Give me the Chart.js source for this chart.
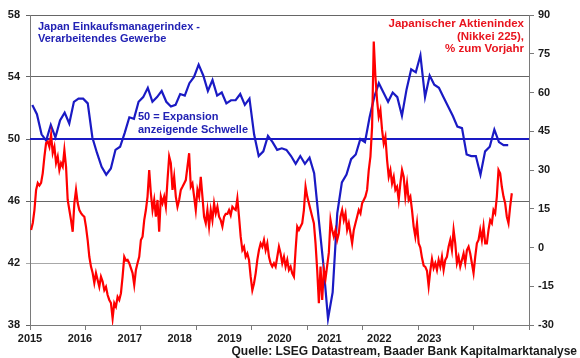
<!DOCTYPE html>
<html>
<head>
<meta charset="utf-8">
<script src="https://cdn.jsdelivr.net/npm/chart.js@4/dist/chart.umd.min.js"></script>
<style>
html,body{margin:0;padding:0;background:#fff;}
#wrap{width:580px;height:358px;}
</style>
</head>
<body>
<div id="wrap"><canvas id="c" width="580" height="358"></canvas></div>
<script>
// ---------- DATA ----------
// Japan manufacturing PMI, monthly, Jan 2015 .. Aug 2023
const pmiStartYear = 2015;
const pmiValues = [
  52.2, 51.6, 50.3, 49.9, 50.9, 50.1, 51.2, 51.7, 51.0, 52.4, 52.6, 52.6,
  52.3, 50.1, 49.1, 48.2, 47.7, 48.1, 49.3, 49.5, 50.4, 51.4, 51.3, 52.4,
  52.7, 53.3, 52.4, 52.7, 53.1, 52.4, 52.1, 52.2, 52.9, 52.8, 53.6, 54.0,
  54.8, 54.1, 53.1, 53.8, 52.8, 53.0, 52.3, 52.5, 52.5, 52.9, 52.2, 52.6,
  50.3, 48.9, 49.2, 50.2, 49.8, 49.3, 49.4, 49.3, 48.9, 48.4, 48.9, 48.4,
  48.8, 47.8, 44.8, 41.9, 38.4, 40.1, 45.2, 47.2, 47.7, 48.7, 49.0, 50.0,
  49.8, 51.4, 52.7, 53.6, 53.0, 52.4, 53.0, 52.7, 51.5, 53.2, 54.5, 54.3,
  55.4, 52.7, 54.1, 53.5, 53.3, 52.7, 52.1, 51.5, 50.8, 50.7, 49.0, 48.9,
  48.9, 47.7, 49.2, 49.5, 50.6, 49.8, 49.6, 49.6
];

// Nikkei 225, % y/y, sampled about every 11 days from early Jan 2015
const nikkeiStart = 2015.02;
const nikkeiStep = 0.03;
const nikkeiValues = [
  6.8, 9.5, 14.5, 22.3, 25, 24, 25, 28.8, 35.2, 40.4,
  41, 39, 43.6, 36.6, 39, 32.7, 35.2, 30, 32.7, 31.3,
  37.7, 31.3, 18.4, 14.5, 10.6, 6.1, 17.2, 22.3, 17.2, 14.5,
  13.3, 12.5, 11.9, 8, 2.9, -3.6, -7.4, -9.9, -13.7, -9.9,
  -12.6, -15.2, -11.3, -13.2, -16.5, -15.2, -18.4, -20.3, -21.5, -27.4,
  -21.5, -22.9, -19.1, -20.3, -17.7, -11.3, -3.6, -5, -4.8, -6.1,
  -8, -9.9, -14.5, -8.7, -6, -3.6, 2.9, 4.2, 10.6, 14.5,
  19.7, 30, 21, 14.5, 18.4, 11.9, 18.4, 6.1, 19.7, 17.2,
  19.7, 15.8, 26.1, 35.2, 32.6, 22.3, 27.4, 19.7, 15.8, 18.4,
  22.3, 23.5, 24.8, 26.1, 31.3, 36.5, 23.5, 24.8, 19.7, 14.5,
  22.3, 19.7, 27.4, 19.7, 11.9, 9.4, 14.5, 8.1, 14.5, 10.6,
  17.1, 13.2, 15.8, 11.9, 10.6, 8.1, 11.9, 13, 13, 14.5,
  12.5, 15.8, 15, 14.5, 19, 11.9, 4.2, -1, 0.3, -3.6,
  -2.3, -4.8, -11.3, -16.5, -13.9, -10, -4.8, -1, 1.6, 0.3,
  2.9, -1, 1.6, -3.6, -6.1, -7.4, -6.1, -7.4, -3.6, 0.3,
  -2.3, -6.1, -3.6, -7.4, -4.8, -8.7, -7.4, -10, -11.3, -1,
  8.1, 6.8, 8.1, 9.4, 14.5, 23.5, 19.7, 17.1, 14.5, 11.9,
  9.4, 1.6, -8.7, -21.6, -7.4, -20.3, -8.7, -12, -7, -2,
  10.6, 6.8, 4.2, 6.8, 2.9, 5.5, 11.9, 14.5, 10.6, 13.2,
  6.8, 9.4, 5.5, 1.6, 6.8, 9.4, 11.9, 14.5, 13.2, 17.1,
  18.4, 19.7, 22.3, 30, 35.2, 46.8, 79.7, 66.1, 57, 50.6,
  53.2, 45.5, 40.3, 42.9, 33.9, 27.4, 30, 24.8, 27.4, 22.3,
  23.5, 18.4, 24.8, 30, 27.4, 19.7, 24.8, 18.4, 19.7, 14.5,
  8.1, 4.2, 9.4, 1.6, 0, -4, -7, -7.5, -9, -15,
  -9, -4.5, -8, -6.1, -8.7, -4.8, -7.4, -3.6, -8.7, -4.8,
  -3.6, 0.3, 2.9, -1, 6.8, 1.6, -6.1, -3.6, -7.4, -4.8,
  -2.3, -6.1, -1, 0.3, -2.3, -6.1, -9.9, -3.6, 1.6, 2.9,
  6.8, 2.9, 8.1, 1.6, 1.6, 6.8, 10.6, 9.4, 14.5, 13.2,
  19.7, 30, 28.7, 23.5, 19.7, 17.1, 11.9, 9.4, 15.8, 21
];

const thresholdValue = 50;
const yearLabels = ['2015','2016','2017','2018','2019','2020','2021','2022','2023'];
const leftTicks = [38, 42, 46, 50, 54, 58];
const rightTicks = [-30, -15, 0, 15, 30, 45, 60, 75, 90];

// ---------- BUILD ----------
const pmiData = pmiValues.map((v, i) => ({ x: pmiStartYear + (i + 0.5) / 12, y: v }));
const nikkeiData = nikkeiValues.map((v, i) => ({ x: nikkeiStart + i * nikkeiStep, y: v }));
const thresholdData = [{ x: 2015, y: thresholdValue }, { x: 2024, y: thresholdValue }];

const FONT = '"Liberation Sans", Arial, sans-serif';
const BLUE = '#1a1ac4';
const BLUE_TXT = '#2222b4';
const RED = '#ff0000';
const RED_TXT = '#e8141e';
const AXIS = '#7a7a7a';
const TICK_TXT = '#1a1a1a';
const tickFont = { family: FONT, size: 11, weight: 'bold' };

const textPlugin = {
  id: 'texts',
  afterDraw(chart) {
    const c = chart.ctx;
    c.save();
    c.font = 'bold 11px ' + FONT;
    c.textBaseline = 'alphabetic';
    c.fillStyle = BLUE_TXT;
    c.textAlign = 'left';
    c.fillText('Japan Einkaufsmanagerindex -', 38, 30);
    c.fillText('Verarbeitendes Gewerbe', 38, 42);
    c.fillText('50 = Expansion', 138, 120);
    c.fillText('anzeigende Schwelle', 138, 133);
    c.font = 'bold 11.5px ' + FONT;
    c.fillStyle = RED_TXT;
    c.textAlign = 'right';
    c.fillText('Japanischer Aktienindex', 524, 27);
    c.fillText('(Nikkei 225),', 524, 40);
    c.fillText('% zum Vorjahr', 524, 52);
    c.font = 'bold 12px ' + FONT;
    c.fillStyle = TICK_TXT;
    c.fillText('Quelle: LSEG Datastream, Baader Bank Kapitalmarktanalyse', 577, 355);
    c.restore();
  }
};

new Chart(document.getElementById('c').getContext('2d'), {
  type: 'line',
  data: {
    datasets: [
      { label: 'Nikkei', data: nikkeiData, xAxisID: 'x', yAxisID: 'y1', borderColor: RED, borderWidth: 2.2,
        pointRadius: 0, tension: 0, order: 0, fill: false },
      { label: 'PMI', data: pmiData, xAxisID: 'x', yAxisID: 'y', borderColor: BLUE, borderWidth: 2.2,
        pointRadius: 0, tension: 0, order: 1, fill: false },
      { label: '50', data: thresholdData, xAxisID: 'x', yAxisID: 'y', borderColor: BLUE, borderWidth: 1.8,
        pointRadius: 0, order: 2, fill: false }
    ]
  },
  options: {
    responsive: false,
    animation: false,
    layout: { padding: { top: 15, right: 0, bottom: 11, left: 0 } },
    plugins: { legend: { display: false }, tooltip: { enabled: false } },
    scales: {
      x: {
        type: 'linear', position: 'bottom', min: 2015, max: 2024,
        ticks: { display: false, stepSize: 1 },
        grid: { drawOnChartArea: false, drawTicks: true, tickLength: 5, color: AXIS },
        border: { color: AXIS },
        afterFit(s) { s.height = 5; }
      },
      xl: {
        type: 'linear', position: 'bottom', min: 2015, max: 2025,
        afterBuildTicks(s) { s.ticks = yearLabels.map(l => ({ value: Number(l) })); },
        ticks: { autoSkip: false, maxRotation: 0, padding: 2, font: tickFont, color: TICK_TXT,
                 callback: v => String(v) },
        grid: { display: false, drawTicks: false },
        border: { display: false },
        afterFit(s) { s.height = 17; }
      },
      y: {
        type: 'linear', position: 'left', min: 38, max: 58,
        afterBuildTicks(s) { s.ticks = leftTicks.map(v => ({ value: v })); },
        ticks: { font: tickFont, color: TICK_TXT, padding: 6, callback: v => String(v) },
        grid: { tickLength: 4, color: c => (c.tick && c.tick.value === 42) ? '#a8a8a8' : '#666' },
        border: { color: AXIS },
        afterFit(s) { s.width = 30; }
      },
      y1: {
        type: 'linear', position: 'right', min: -30, max: 90,
        afterBuildTicks(s) { s.ticks = rightTicks.map(v => ({ value: v })); },
        ticks: { font: tickFont, color: TICK_TXT, padding: 4, callback: v => String(v) },
        grid: { drawOnChartArea: false, tickLength: 5, color: AXIS },
        border: { color: AXIS },
        afterFit(s) { s.width = 51; }
      }
    }
  },
  plugins: [textPlugin]
});
</script>
</body>
</html>
